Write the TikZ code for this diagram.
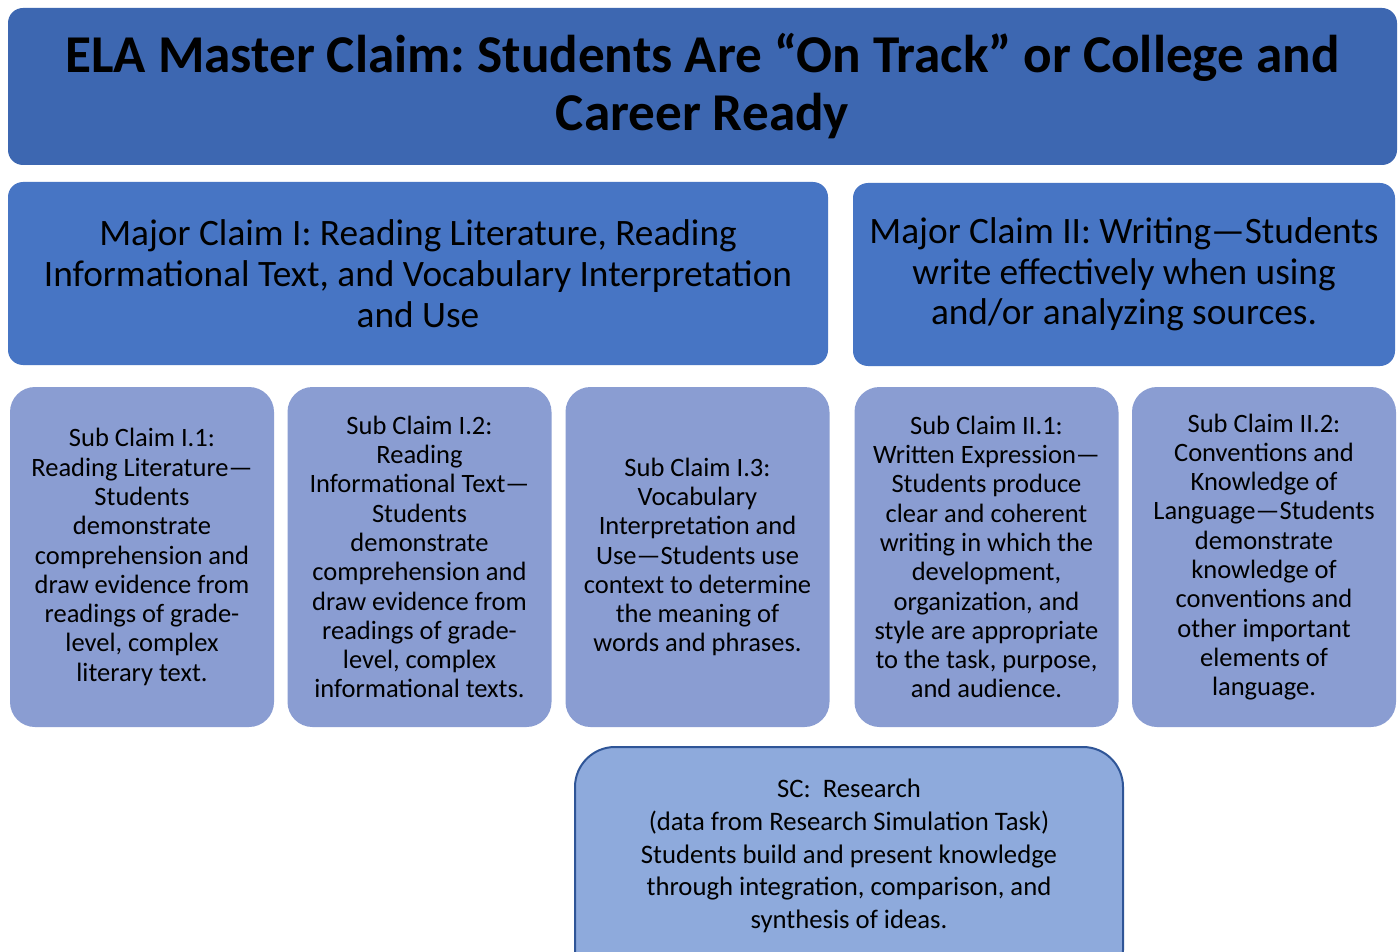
\documentclass[tikz,border=0pt]{standalone}
\usepackage{fontspec}
\setmainfont{Carlito}
\usetikzlibrary{positioning}
\frenchspacing

\definecolor{masterblue}{HTML}{3D67B1}
\definecolor{majorblue}{HTML}{4775C4}
\definecolor{subblue}{HTML}{8A9DD2}
\definecolor{scblue}{HTML}{8EAADC}
\definecolor{scedge}{HTML}{2F5597}

\tikzset{
  masterbox/.style={fill=masterblue, rounded corners=15pt, inner sep=0pt,
    minimum width=1389pt, minimum height=157pt, align=center,
    font=\fontsize{53.2}{58}\selectfont\bfseries},
  majorbox/.style={fill=majorblue, rounded corners=15pt, inner sep=0pt,
    minimum height=183pt, align=center, font=\fontsize{37.3}{40.7}\selectfont},
  subbox/.style={fill=subblue, rounded corners=25pt, inner sep=0pt,
    minimum width=264pt, minimum height=340pt, align=center,
    font=\fontsize{26.5}{29.3}\selectfont},
  scbox/.style={fill=scblue, draw=scedge, line width=2pt, rounded corners=40pt,
    inner sep=0pt, minimum width=548pt, minimum height=243pt},
  sctext/.style={inner sep=0pt, align=center, font=\fontsize{26.7}{32.7}\selectfont}
}

\begin{document}
\begin{tikzpicture}[x=1pt,y=-1pt]
  \clip (0,0) rectangle (1398,952);
  \fill[white] (0,0) rectangle (1398,952);

  % master claim
  \node[masterbox] (master) at (702.5,86.5)
    {ELA Master Claim: Students Are “On Track” or College and\\Career Ready};

  % major claims
  \node[majorbox, minimum width=820pt] (majorI) at (418,273.5)
    {Major Claim I: Reading Literature, Reading\\Informational Text, and Vocabulary Interpretation\\and Use};
  \node[majorbox, minimum width=542pt] (majorII) at (1124,274.5)
    {Major Claim II: Writing—Students\\write effectively when using\\and/or analyzing sources.};

  % sub claims
  \node[subbox] (subIa) at (142,557)
    {Sub Claim I.1:\\Reading Literature—\\Students\\demonstrate\\comprehension and\\draw evidence from\\readings of grade-\\level, complex\\literary text.};
  \node[subbox] (subIb) at (419.5,557)
    {Sub Claim I.2:\\Reading\\Informational Text—\\Students\\demonstrate\\comprehension and\\draw evidence from\\readings of grade-\\level, complex\\informational texts.};
  \node[subbox] (subIc) at (697.5,557)
    {Sub Claim I.3:\\Vocabulary\\Interpretation and\\Use—Students use\\context to determine\\the meaning of\\words and phrases.};
  \node[subbox] (subIIa) at (986.5,557)
    {Sub Claim II.1:\\Written Expression—\\Students produce\\clear and coherent\\writing in which the\\development,\\organization, and\\style are appropriate\\to the task, purpose,\\and audience.};
  \node[subbox] (subIIb) at (1264,557)
    {Sub Claim II.2:\\Conventions and\\Knowledge of\\Language—Students\\demonstrate\\knowledge of\\conventions and\\other important\\elements of\\language.};

  % research
  \node[scbox] (research) at (849,868.5) {};
  \node[sctext] (researchtext) at (849,856)
    {SC:\ \ Research\\(data from Research Simulation Task)\\Students build and present knowledge\\through integration, comparison, and\\synthesis of ideas.};
\end{tikzpicture}
\end{document}
